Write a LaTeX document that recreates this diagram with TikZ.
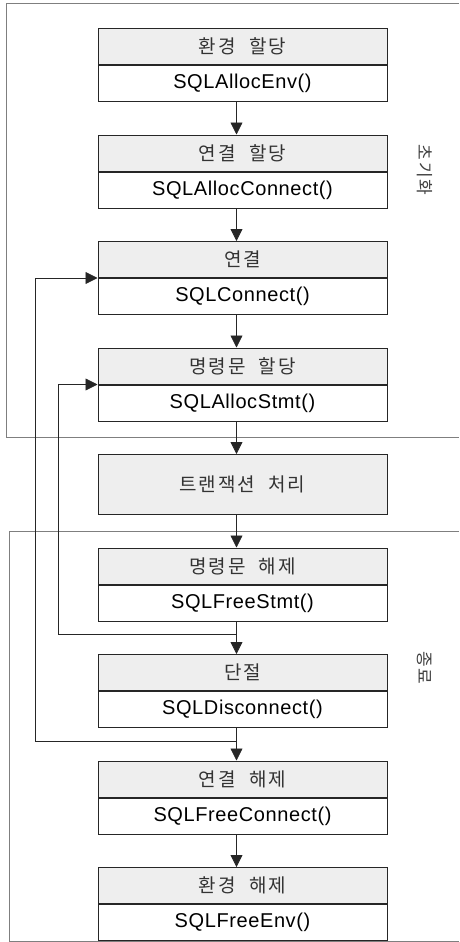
\documentclass[tikz,border=0pt]{standalone}
\usepackage{fontspec}
\setmainfont{Liberation Sans}[LetterSpace=3]
\newfontfamily\kr[LetterSpace=10]{Noto Sans CJK KR}
\usetikzlibrary{arrows.meta,positioning,calc}
\definecolor{headgray}{HTML}{EEEEEE}
\definecolor{framegray}{HTML}{7F7F7F}
\newcommand{\wgap}{\hspace{0.7em}}

\begin{document}
\begin{tikzpicture}[
        x=1pt, y=-1pt,
        head/.style={
            draw=black!85,
            line width=1pt,
            fill=headgray,
            minimum width=289pt,
            minimum height=36pt,
            inner sep=0pt,
            text=black!80,
            font=\fontsize{19}{22}\selectfont\kr
        },
        body/.style={
            draw=black!85,
            line width=1pt,
            fill=white,
            minimum width=289pt,
            minimum height=36pt,
            inner sep=0pt,
            font=\fontsize{20}{23}\selectfont
        },
        arr/.style={
            draw=black!85,
            line width=0.8pt,
            -{Triangle[length=12pt,width=12pt]}
        },
        frame/.style={
            draw=framegray,
            line width=0.9pt
        },
        sidelabel/.style={
            rotate=-90,
            text=black!75,
            font=\fontsize{17}{20}\selectfont\kr
        },
        node distance=32.5pt
    ]

        \useasboundingbox (0,0) rectangle (459,942);

        \node[head, anchor=north] (envh) at (242.5,28)
            {환경\wgap 할당};
        \node[body, below=0pt of envh] (envb)
            {SQLAllocEnv()};

        \node[head, below=of envb] (connh)
            {연결\wgap 할당};
        \node[body, below=0pt of connh] (connb)
            {SQLAllocConnect()};

        \node[head, below=of connb] (conh)
            {연결};
        \node[body, below=0pt of conh] (conb)
            {SQLConnect()};

        \node[head, below=of conb] (stmth)
            {명령문\wgap 할당};
        \node[body, below=0pt of stmth] (stmtb)
            {SQLAllocStmt()};

        \node[head, minimum height=60pt, below=of stmtb] (trans)
            {트랜잭션\wgap 처리};

        \node[head, below=of trans] (fstmth)
            {명령문\wgap 해제};
        \node[body, below=0pt of fstmth] (fstmtb)
            {SQLFreeStmt()};

        \node[head, below=of fstmtb] (disch)
            {단절};
        \node[body, below=0pt of disch] (discb)
            {SQLDisconnect()};

        \node[head, below=of discb] (fconnh)
            {연결\wgap 해제};
        \node[body, below=0pt of fconnh] (fconnb)
            {SQLFreeConnect()};

        \node[head, below=of fconnb] (fenvh)
            {환경\wgap 해제};
        \node[body, below=0pt of fenvh] (fenvb)
            {SQLFreeEnv()};

        % phase frames
        \coordinate (cut1) at ($(stmtb.south)!0.5!(trans.north)$);
        \coordinate (cut2) at ($(trans.south)!0.5!(fstmth.north)$);
        \draw[frame] (459,3) -- (6,3) -- (6,0 |- cut1) -- (459,0 |- cut1);
        \draw[frame] (459,0 |- cut2) -- (9,0 |- cut2) -- (9,941) -- (459,941);

        \node[sidelabel] (initlbl) at (425,170) {초기화};
        \node[sidelabel] (endlbl) at (425,668) {종료};

        % main flow
        \foreach \a/\b in {envb/connh, connb/conh, conb/stmth, stmtb/trans,
                           trans/fstmth, fstmtb/disch, discb/fconnh, fconnb/fenvh}
            \draw[arr] ([xshift=-6pt]\a.south) -- ([xshift=-6pt]\b.north);

        % loops back
        \coordinate (j1) at ($(fstmtb.south)!0.4!(disch.north)+(-6,0)$);
        \coordinate (j2) at ($(discb.south)!0.4!(fconnh.north)+(-6,0)$);
        \coordinate (lp1) at (58,0);
        \coordinate (lp2) at (35,0);
        \draw[arr] (j1) -- (j1 -| lp1) |- (stmth.south west);
        \draw[arr] (j2) -- (j2 -| lp2) |- (conh.south west);

    \end{tikzpicture}
\end{document}
